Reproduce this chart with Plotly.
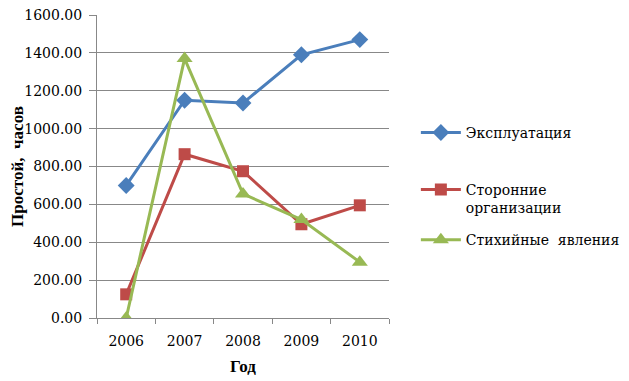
import plotly.graph_objects as go

years = ["2006", "2007", "2008", "2009", "2010"]
exploitation = [700, 1150, 1135, 1390, 1470]
third_party = [125, 865, 775, 495, 595]
natural = [0, 1370, 655, 520, 295]
y_ticks = [0, 200, 400, 600, 800, 1000, 1200, 1400, 1600]
y_tick_labels = ["%.2f" % v for v in y_ticks]

series = [
    ("Эксплуатация", exploitation, "#4A7EBB", "diamond", 13, "legend"),
    ("Сторонние<br>организации", third_party, "#BE4B48", "square", 12, "legend2"),
    ("Стихийные  явления", natural, "#98B954", "triangle-up", 14, "legend3"),
]

fig = go.Figure()
for name, vals, color, sym, sz, lg in series:
    fig.add_trace(go.Scatter(
        x=years, y=vals, name=name, mode="lines+markers",
        line=dict(color=color, width=3),
        marker=dict(symbol=sym, size=sz, color=color),
        legend=lg,
    ))

ff = "DejaVu Serif, serif"
ft = "Liberation Serif, Times New Roman, serif"
leg_common = dict(x=1.092, xanchor="left", yanchor="middle",
                  font=dict(family=ff, size=14, color="black"),
                  itemwidth=40, valign="top", bgcolor="rgba(0,0,0,0)")
fig.update_layout(
    width=621, height=373,
    margin=dict(l=89, r=240, t=7, b=63, autoexpand=False),
    paper_bgcolor="white", plot_bgcolor="white",
    font=dict(family=ff, size=14, color="black"),
    showlegend=True,
    legend=dict(y=0.611, **leg_common),
    legend2=dict(y=0.393, **leg_common),
    legend3=dict(y=0.257, **leg_common),
    xaxis=dict(
        type="category", range=[-0.5, 4.5], automargin=False,
        showline=True, linecolor="#888888", linewidth=1,
        ticks="outside", tickson="boundaries", ticklen=5, tickcolor="#888888",
        tickfont=dict(family=ff, size=14, color="black"),
        ticklabelstandoff=10,
        showgrid=False,
        title=dict(text="<b>Год</b>", font=dict(family=ft, size=17), standoff=12),
    ),
    yaxis=dict(
        range=[0, 1600], tickvals=y_ticks, ticktext=y_tick_labels, automargin=False,
        ticklabeloverflow="allow", ticklabelstandoff=4,
        showline=True, linecolor="#888888", linewidth=1,
        ticks="outside", ticklen=7, tickcolor="#888888",
        tickfont=dict(family=ff, size=14, color="black"),
        showgrid=True, gridcolor="#888888", gridwidth=1,
        zeroline=False,
        title=dict(text="<b>Простой,  часов</b>", font=dict(family=ft, size=17), standoff=14),
    ),
)

fig.write_html("out.html")
